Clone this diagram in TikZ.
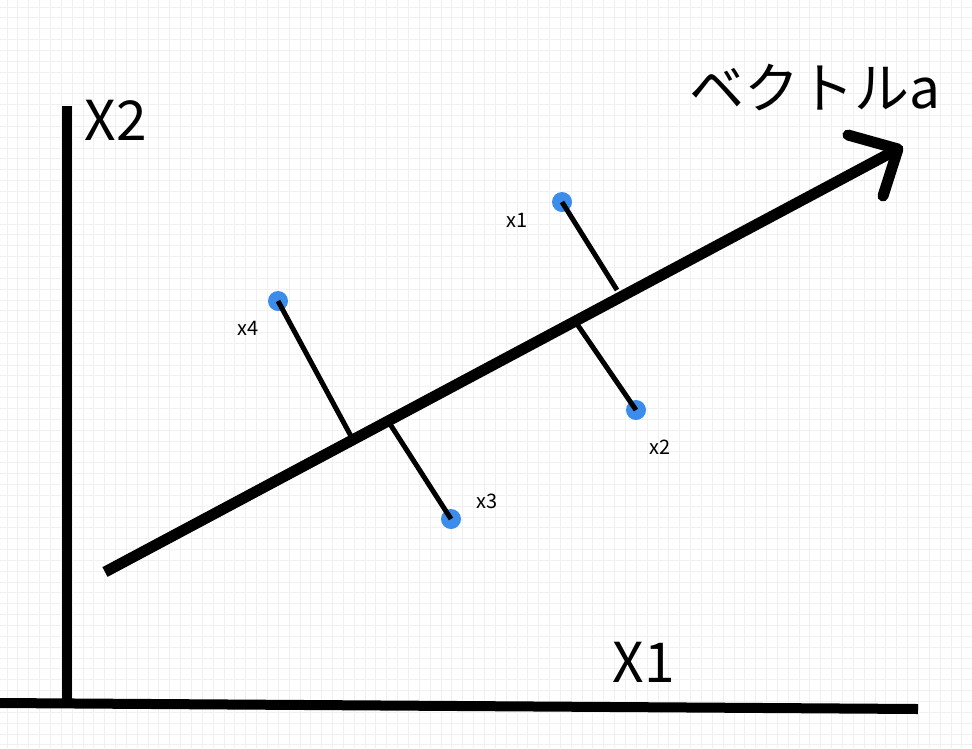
\documentclass[tikz,border=0pt]{standalone}
\usepackage{fontspec}
\setmainfont{Noto Sans CJK JP}
\begin{document}
\begin{tikzpicture}[x=1pt,y=-1pt,
  gridline/.style={draw=black!6,line width=0.9pt},
  axisline/.style={line width=10pt,black},
  vecline/.style={line width=11pt,black},
  projline/.style={line width=5pt,black},
  dot/.style={circle,fill=dotblue,inner sep=0pt,minimum size=20pt},
  bigtext/.style={font=\fontsize{55}{58}\selectfont,inner sep=0pt},
  smalltext/.style={font=\fontsize{20}{22}\selectfont,inner sep=0pt}]
\definecolor{dotblue}{HTML}{3B8CEB}
\useasboundingbox (0,0) rectangle (972,748);
\fill[white] (0,0) rectangle (972,748);
% grid
\foreach \i in {0,...,89} {\draw[gridline] ({7+10.85*\i},0) -- ({7+10.85*\i},748);}
\foreach \i in {0,...,68} {\draw[gridline] (0,{7+10.85*\i}) -- (972,{7+10.85*\i});}
% axes
\coordinate (ytop) at (67,106);
\coordinate (ybot) at (67,703);
\coordinate (xl) at (0,703);
\coordinate (xr) at (918,709);
\draw[axisline] (ytop) -- (ybot);
\draw[axisline] (xl) -- (xr);
\node[bigtext,anchor=center] (lx2) at (116,120) {X2};
\node[bigtext,anchor=center] (lx1) at (644,662) {X1};
% vector
\coordinate (vs) at (105,572);
\coordinate (vt) at (898,149);
\coordinate (va1) at (848,135);
\coordinate (va2) at (883,196);
\draw[vecline] (vs) -- (vt);
\draw[vecline,line cap=round,line join=round] (va1) -- (vt) -- (va2);
\node[bigtext,anchor=center] (lva) at (815,88) {ベクトルa};
% points
\node[dot] (p1) at (562,202) {};
\node[dot] (p2) at (636,410) {};
\node[dot] (p3) at (451,519) {};
\node[dot] (p4) at (278,301) {};
\coordinate (f1) at (617,290);
\coordinate (f2) at (577,324);
\coordinate (f3) at (390,424);
\coordinate (f4) at (352,438);
\draw[projline] (p1.center) -- (f1);
\draw[projline] (p2.center) -- (f2);
\draw[projline] (p3.center) -- (f3);
\draw[projline] (p4.center) -- (f4);
\node[smalltext] (l1) at (517,220) {x1};
\node[smalltext] (l2) at (660,447) {x2};
\node[smalltext] (l3) at (487,501) {x3};
\node[smalltext] (l4) at (248,328) {x4};
\end{tikzpicture}
\end{document}
